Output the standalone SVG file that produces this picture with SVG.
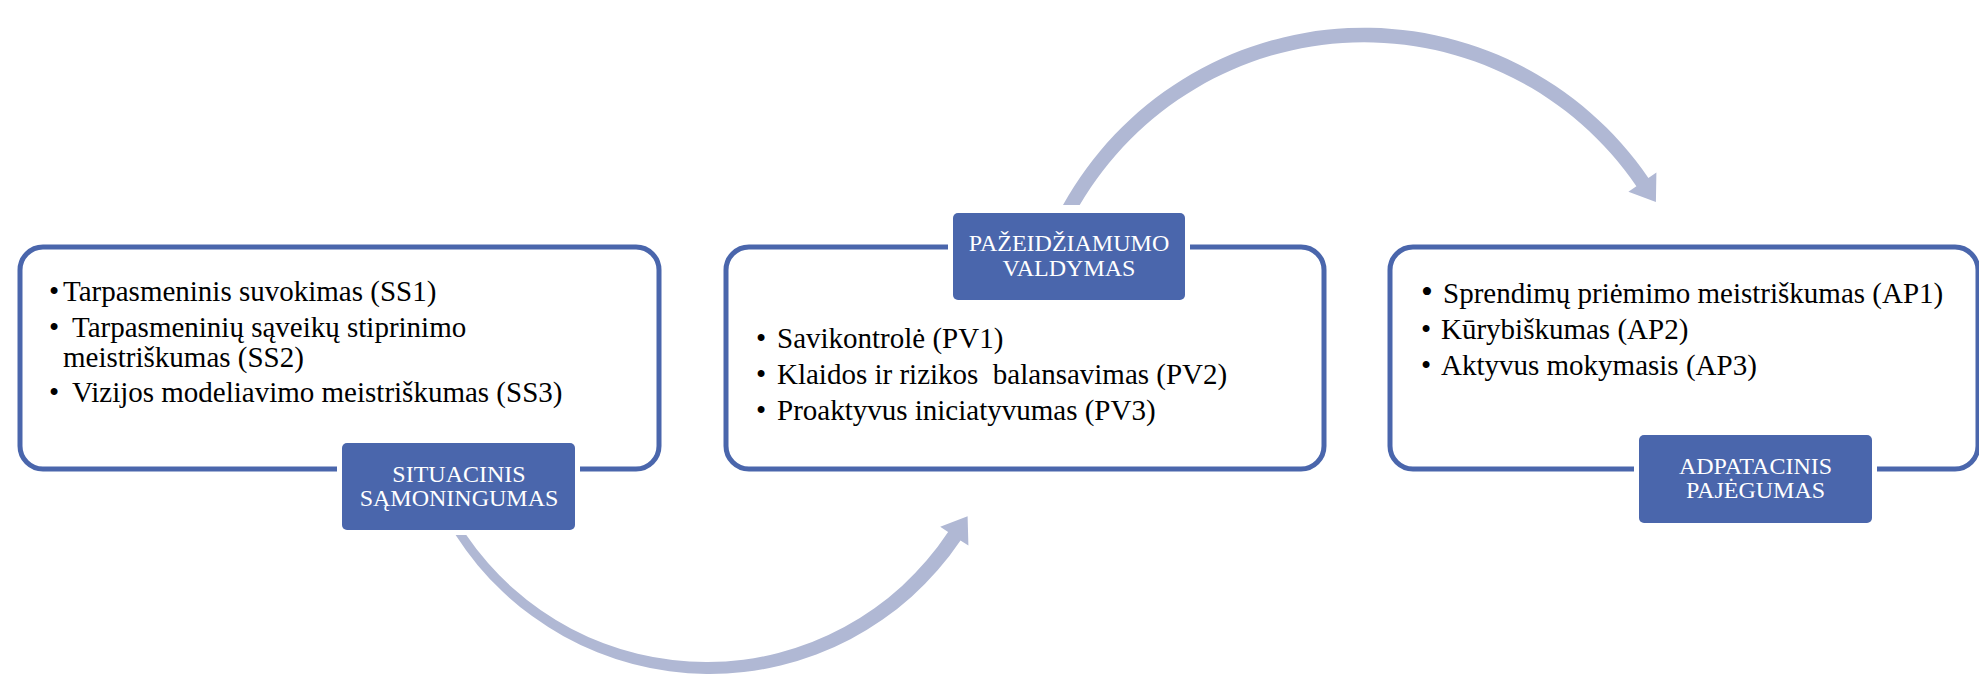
<svg xmlns="http://www.w3.org/2000/svg" width="1979" height="674" viewBox="0 0 1979 674">
<style>
.box{fill:#fff;stroke:#4A66AC;stroke-width:5}
.lbl{fill:#4A66AC;stroke:#fff;stroke-width:10;paint-order:stroke}
.lt{font-family:"Liberation Serif","Times New Roman",serif;font-size:24px;fill:#fff;text-anchor:middle}
.bt{font-family:"Liberation Serif","Times New Roman",serif;font-size:29px;fill:#000;white-space:pre}
.arr{fill:#B0B8D4}
</style>
<rect width="1979" height="674" fill="#fff"/>
<g id="connectors">
<path class="arr" d="M 455.6 535 A 302 302 0 0 0 960.5 540.4 L 968.4 545.6 L 967.6 516.2 L 940.2 526.8 L 948.1 532.0 A 290 290 0 0 1 466.3 535 Z"/>
<path class="arr" d="M 1063 205 A 344.25 344.25 0 0 1 1648.4 178 L 1656.4 172.5 L 1655.9 201.9 L 1628.4 191.7 L 1636.4 186.2 A 329.75 329.75 0 0 0 1079.7 205 Z"/>
</g>
<g id="node-ss">
<rect class="box" x="20" y="247" width="639" height="222" rx="23"/>
<text class="bt" y="301"><tspan x="49">•</tspan><tspan x="63">Tarpasmeninis suvokimas (SS1)</tspan></text>
<text class="bt" y="337"><tspan x="49">•</tspan><tspan x="72">Tarpasmeninių sąveikų stiprinimo</tspan></text>
<text class="bt" x="63" y="367">meistriškumas (SS2)</text>
<text class="bt" y="402"><tspan x="49">•</tspan><tspan x="72">Vizijos modeliavimo meistriškumas (SS3)</tspan></text>
<rect class="lbl" x="342" y="443" width="233" height="87" rx="5"/>
<text class="lt" x="459" y="482">SITUACINIS</text>
<text class="lt" x="459" y="506">SĄMONINGUMAS</text>
</g>
<g id="node-pv">
<rect class="box" x="726" y="247" width="598" height="222" rx="23"/>
<text class="bt" y="348"><tspan x="756">•</tspan><tspan x="777">Savikontrolė (PV1)</tspan></text>
<text class="bt" y="384"><tspan x="756">•</tspan><tspan x="777">Klaidos ir rizikos  balansavimas (PV2)</tspan></text>
<text class="bt" y="420"><tspan x="756">•</tspan><tspan x="777">Proaktyvus iniciatyvumas (PV3)</tspan></text>
<rect class="lbl" x="953" y="213" width="232" height="87" rx="5"/>
<text class="lt" x="1069" y="251">PAŽEIDŽIAMUMO</text>
<text class="lt" x="1069" y="276">VALDYMAS</text>
</g>
<g id="node-ap">
<rect class="box" x="1390" y="247" width="588" height="222" rx="23"/>
<text class="bt" y="303"><tspan x="1421" font-size="34">•</tspan><tspan x="1443">Sprendimų priėmimo meistriškumas (AP1)</tspan></text>
<text class="bt" y="339"><tspan x="1421">•</tspan><tspan x="1441">Kūrybiškumas (AP2)</tspan></text>
<text class="bt" y="375"><tspan x="1421">•</tspan><tspan x="1441">Aktyvus mokymasis (AP3)</tspan></text>
<rect class="lbl" x="1639" y="435" width="233" height="88" rx="5"/>
<text class="lt" x="1755.5" y="474">ADPATACINIS</text>
<text class="lt" x="1755.5" y="498">PAJĖGUMAS</text>
</g>
</svg>
